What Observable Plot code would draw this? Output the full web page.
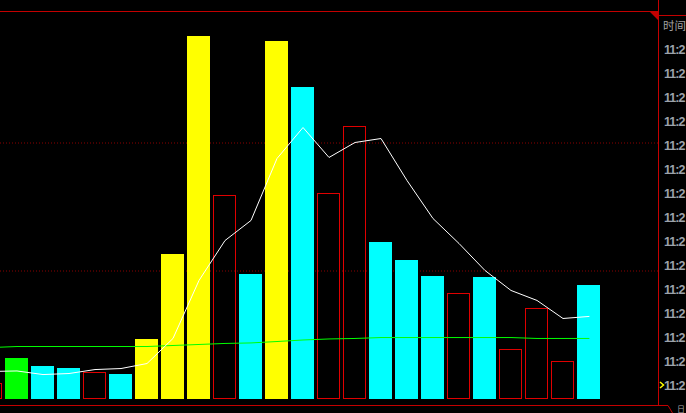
<!DOCTYPE html>
<html>
<head>
<meta charset="utf-8">
<script src="https://cdn.jsdelivr.net/npm/d3@7"></script>
<script src="https://cdn.jsdelivr.net/npm/@observablehq/plot@0.6"></script>
<style>
  html, body { margin: 0; padding: 0; background: #000; }
  #chart { width: 686px; height: 413px; overflow: hidden; }
</style>
</head>
<body>
<div id="chart"></div>
<script>
// ---- data ----
const slots = [-1,0,1,2,3,4,5,6,7,8,9,10,11,12,13,14,15,16,17,18,19,20,21,22];
const volumes = [121,316,254,238,207,191,465,1129,2832,1590,973,2793,2434,1605,2129,1223,1082,957,824,949,387,707,293,887];
const kinds = ["up","flat","down","down","up","down","big","big","big","up","down","big","down","up","up","down","down","down","up","down","up","up","up","down"];
const whiteLine = [215,219,191,199,230,238,277,473,926,1238,1395,1879,2121,1887,2004,2035,1707,1410,1215,1004,848,770,629,645];
const greenLine = [402,410,410,410,410,410,410,418,426,434,438,449,461,469,473,480,480,480,480,480,480,473,473,473];
const gridLevels = [1000, 2000];
const timeHeader = "时间";
const timeRows = ["11:2","11:2","11:2","11:2","11:2","11:2","11:2","11:2","11:2","11:2","11:2","11:2","11:2","11:2","11:2"];
const cornerLabel = "日";

const kindColor = {flat: "#00ff00", down: "#00ffff", big: "#ffff00"};
const rows = slots.map((s, k) => ({i: s, v: volumes[k], kind: kinds[k], w: whiteLine[k], g: greenLine[k]}));

const W = 686, H = 413;
const svg = Plot.plot({
  width: W, height: H,
  marginLeft: 0, marginRight: 28, marginTop: 14.5, marginBottom: 14.5,
  style: {background: "#000", color: "#fff", overflow: "hidden"},
  x: {type: "band", domain: slots, range: [-24, 603], padding: 3/26, round: false, axis: null},
  y: {domain: [0, 3000], axis: null},
  marks: [
    Plot.ruleY(gridLevels, {stroke: "#8a0000", strokeDasharray: "1,2"}),
    Plot.barY(rows.filter(d => d.kind !== "up"), {x: "i", y: "v", fill: d => kindColor[d.kind], shapeRendering: "crispEdges"}),
    Plot.barY(rows.filter(d => d.kind === "up"), {x: "i", y: "v", fill: "none", stroke: "#e00000", strokeWidth: 1, inset: 0.5, shapeRendering: "crispEdges"}),
    Plot.line(rows, {x: "i", y: "g", stroke: "#00ff00", strokeWidth: 1}),
    Plot.line(rows, {x: "i", y: "w", stroke: "#ffffff", strokeWidth: 1})
  ]
});

// ---- frame decorations and side time list ----
const s = d3.select(svg);
const red = "#c40000";
s.append("line").attr("x1", 0).attr("x2", 658).attr("y1", 11.5).attr("y2", 11.5).attr("stroke", red);
s.append("line").attr("x1", 658).attr("x2", W).attr("y1", 15.5).attr("y2", 15.5).attr("stroke", red);
s.append("line").attr("x1", 658.5).attr("x2", 658.5).attr("y1", 0).attr("y2", 405).attr("stroke", red);
s.append("path").attr("d", "M0,405.5 L668,405.5 L672.5,413").attr("fill", "none").attr("stroke", red);
s.append("path").attr("d", "M649,11 L658,11 L658,20 Z").attr("fill", red);
s.append("text").attr("x", 663).attr("y", 30).attr("text-anchor", "start").attr("fill", "#a0a0a0")
  .attr("font-family", "'Noto Sans CJK SC', sans-serif").attr("font-size", 11.5).text(timeHeader);
s.append("g").selectAll("text").data(timeRows).join("text")
  .attr("x", 664).attr("y", (d, k) => 54 + 24 * k).attr("text-anchor", "start")
  .attr("fill", "#9ca2aa").attr("font-family", "'Liberation Sans', Arial, sans-serif")
  .attr("font-weight", "bold").attr("font-size", 12.5).attr("textLength", 21.5).text(d => d);
s.append("path").attr("d", "M660,382 L663.5,385 L660,388").attr("fill", "none").attr("stroke", "#ffff00").attr("stroke-width", 1.5);
s.append("text").attr("x", 677).attr("y", 412).attr("text-anchor", "start").attr("fill", "#a0a0a0")
  .attr("font-family", "'Noto Sans CJK SC', sans-serif").attr("font-size", 8).text(cornerLabel);

document.getElementById("chart").appendChild(svg);
</script>
</body>
</html>
